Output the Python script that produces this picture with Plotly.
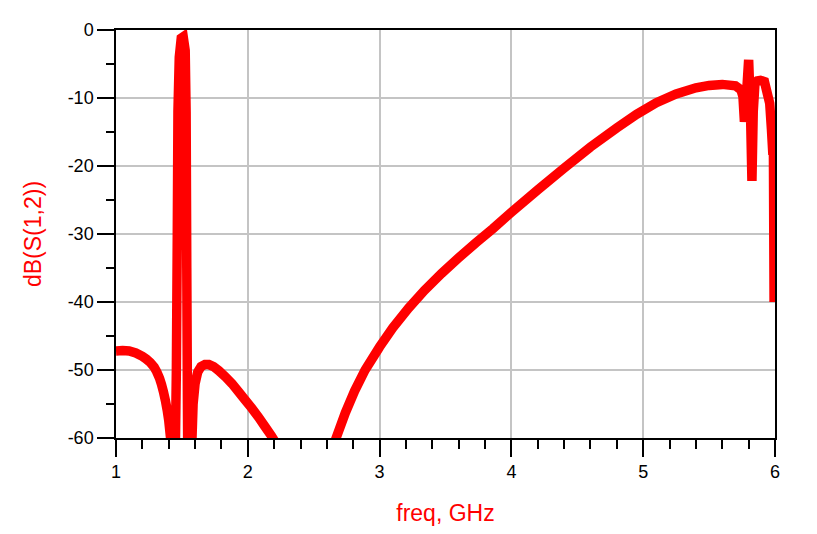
import plotly.graph_objects as go

# Frequency (GHz) and dB(S(1,2))
freq = [1.00, 1.05, 1.10, 1.15, 1.20, 1.23, 1.26, 1.29, 1.31, 1.33, 1.345, 1.36, 1.375,
        1.39, 1.40, 1.415, 1.435, 1.45, 1.458, 1.465, 1.47, 1.48, 1.495, 1.51,
        1.525, 1.532, 1.537, 1.542, 1.55, 1.57, 1.585, 1.60, 1.62, 1.645, 1.675,
        1.705, 1.74, 1.78, 1.83, 1.88, 1.93, 1.98, 2.03, 2.08, 2.13, 2.18, 2.22,
        2.30, 2.45, 2.60, 2.67, 2.74, 2.81, 2.89, 3.00, 3.10, 3.22, 3.34, 3.47,
        3.60, 3.73, 3.86, 4.00, 4.20, 4.40, 4.60, 4.80, 4.95, 5.10, 5.25, 5.40,
        5.50, 5.60, 5.70, 5.742, 5.757, 5.768, 5.782, 5.80, 5.814, 5.825, 5.835,
        5.848, 5.865, 5.89, 5.92, 5.935, 5.96, 5.973, 5.982, 5.988, 5.993]
s12_db = [-47.2, -47.15, -47.2, -47.5, -48.0, -48.4, -48.9, -49.6, -50.3, -51.2, -52.1, -53.2, -54.5,
          -56.1, -57.4, -60.2, -80.0, -62.0, -50.0, -30.0, -12.0, -4.0, -1.2, -1.0,
          -3.0, -12.0, -35.0, -55.0, -80.0, -64.0, -55.0, -52.0, -50.3, -49.5, -49.2,
          -49.2, -49.5, -50.1, -51.0, -52.0, -53.2, -54.4, -55.6, -56.9, -58.3, -59.7, -61.0,
          -68.0, -72.0, -64.0, -60.0, -56.3, -53.1, -50.0, -46.6, -43.8, -40.9, -38.3, -35.8,
          -33.5, -31.3, -29.2, -26.8, -23.5, -20.3, -17.2, -14.4, -12.4, -10.7, -9.4, -8.5,
          -8.15, -8.0, -8.2, -8.8, -9.8, -13.5, -10.0, -4.4, -12.0, -22.2, -12.0,
          -7.8, -7.5, -7.4, -7.6, -8.8, -10.8, -14.6, -17.7, -17.7, -40.0]

x_ticks = [1, 2, 3, 4, 5, 6]
y_ticks = [0, -10, -20, -30, -40, -50, -60]

RED = "#ff0000"
FONT = "Arial, Liberation Sans, sans-serif"

fig = go.Figure()
fig.add_trace(go.Scatter(x=freq, y=s12_db, mode="lines",
                         line=dict(color=RED, width=9.5, simplify=False),
                         showlegend=False))

axis_common = dict(
    showline=True, linecolor="black", linewidth=1.5, mirror=True,
    showgrid=True, gridcolor="#c4c4c4", gridwidth=1.5,
    zeroline=False, ticks="outside", tickcolor="black", tickwidth=1.5,
    tickfont=dict(family=FONT, size=18, color="black"),
)

fig.update_layout(
    width=809, height=526,
    margin=dict(l=108, r=42, t=14, b=96),
    paper_bgcolor="white", plot_bgcolor="white",
    xaxis=dict(
        range=[1, 6], tickvals=x_ticks, ticktext=[str(v) for v in x_ticks],
        ticklen=17,
        minor=dict(dtick=0.2, tick0=1, ticks="outside", ticklen=9,
                   tickcolor="black", tickwidth=1.5, showgrid=False),
        title=dict(text="freq, GHz", font=dict(family=FONT, size=23, color=RED),
                   standoff=24),
        **axis_common,
    ),
    yaxis=dict(
        range=[-60, 0], tickvals=y_ticks, ticktext=[str(v) for v in y_ticks],
        ticklen=17,
        minor=dict(dtick=5, tick0=0, ticks="outside", ticklen=8,
                   tickcolor="black", tickwidth=1.5, showgrid=False),
        title=dict(text="dB(S(1,2))", font=dict(family=FONT, size=23, color=RED),
                   standoff=20),
        **axis_common,
    ),
)

fig.write_html("out.html")
